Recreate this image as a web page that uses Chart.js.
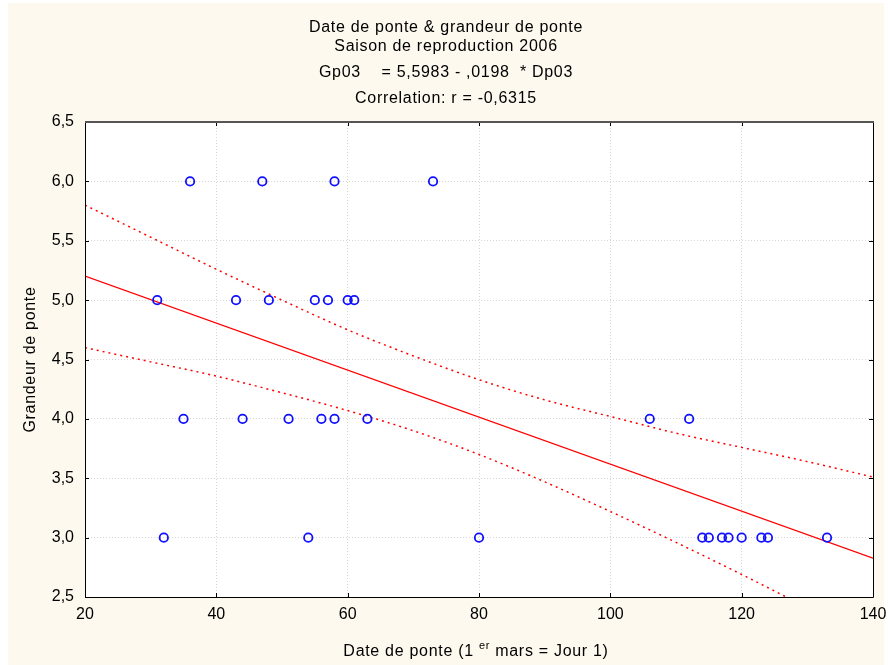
<!DOCTYPE html>
<html>
<head>
<meta charset="utf-8">
<script src="https://cdn.jsdelivr.net/npm/chart.js@4"></script>
<style>
    html, body { margin: 0; padding: 0; background: #ffffff; }
    #wrap { width: 888px; height: 665px; }
</style>
</head>
<body>
<div id="wrap"><canvas id="ponteChart" width="888" height="665"></canvas></div>
<script>
// Observations: date de ponte (jour) and grandeur de ponte
const dateDePonte = [31, 32, 35, 36, 43, 44, 47, 48, 51, 54, 55, 56, 57, 58, 58, 60, 61, 63, 73, 80,
                     106, 112, 114, 115, 117, 118, 120, 123, 124, 133];
const grandeurDePonte = [5, 3, 4, 6, 5, 4, 6, 5, 4, 3, 5, 4, 5, 6, 4, 5, 5, 4, 6, 3,
                         4, 4, 3, 3, 3, 3, 3, 3, 3, 3];

// Regression line end points
const fitX = [20, 140];
const fitY = [5.2023, 2.8263];

// Confidence band
const bandX = [20, 30, 40, 50, 60, 70, 80, 90, 100, 110, 120, 130, 140];
const bandUpper = [5.80, 5.53, 5.26, 5.00, 4.75, 4.53, 4.33, 4.16, 4.02, 3.88, 3.76, 3.64, 3.51];
const bandLower = [4.60, 4.48, 4.36, 4.22, 4.07, 3.90, 3.70, 3.47, 3.22, 2.96, 2.69, 2.41, 2.13];

const xTicks = [20, 40, 60, 80, 100, 120, 140];
const yTicks = [2.5, 3.0, 3.5, 4.0, 4.5, 5.0, 5.5, 6.0, 6.5];

const titleLines = [
    'Date de ponte & grandeur de ponte',
    'Saison de reproduction 2006',
    'Gp03    = 5,5983 - ,0198  * Dp03',
    'Correlation: r = -0,6315'
];
const titleY = [28, 47, 73, 99];
const yTitle = 'Grandeur de ponte';

const FONT = '"Liberation Sans", Arial, sans-serif';

function toPoints(xs, ys) {
    return xs.map(function (x, i) { return { x: x, y: ys[i] }; });
}

function commaFmt(v) {
    return Number(v).toFixed(1).replace('.', ',');
}

const decorPlugin = {
    id: 'decor',
    beforeDraw: function (chart) {
        const ctx = chart.ctx;
        const a = chart.chartArea;
        ctx.save();
        ctx.fillStyle = '#ffffff';
        ctx.fillRect(0, 0, chart.width, chart.height);
        ctx.fillStyle = '#fdf9ee';
        ctx.fillRect(8, 3, 876, 662);
        ctx.fillStyle = '#ffffff';
        ctx.fillRect(a.left, a.top, a.right - a.left, a.bottom - a.top);
        ctx.restore();
    },
    afterDatasetsDraw: function (chart) {
        const ctx = chart.ctx;
        const a = chart.chartArea;
        const xs = chart.scales.x;
        const ys = chart.scales.y;
        ctx.save();

        // inward tick marks
        ctx.strokeStyle = '#000000';
        ctx.lineWidth = 1;
        ctx.beginPath();
        xTicks.forEach(function (v) {
            const px = Math.round(xs.getPixelForValue(v)) + 0.5;
            ctx.moveTo(px, a.bottom);
            ctx.lineTo(px, a.bottom - 4);
            ctx.moveTo(px, a.top);
            ctx.lineTo(px, a.top + 4);
        });
        yTicks.forEach(function (v) {
            const py = Math.round(ys.getPixelForValue(v)) + 0.5;
            ctx.moveTo(a.left, py);
            ctx.lineTo(a.left + 4, py);
            ctx.moveTo(a.right, py);
            ctx.lineTo(a.right - 4, py);
        });
        ctx.stroke();

        // frame
        ctx.beginPath();
        ctx.moveTo(a.left + 0.5, a.top);
        ctx.lineTo(a.left + 0.5, a.bottom + 0.5);
        ctx.lineTo(a.right + 0.5, a.bottom + 0.5);
        ctx.lineTo(a.right + 0.5, a.top);
        ctx.stroke();
        ctx.strokeStyle = '#555555';
        ctx.lineWidth = 2;
        ctx.beginPath();
        ctx.moveTo(a.left, a.top);
        ctx.lineTo(a.right + 1, a.top);
        ctx.stroke();
        ctx.restore();
    },
    afterDraw: function (chart) {
        const ctx = chart.ctx;
        const a = chart.chartArea;
        ctx.save();
        ctx.fillStyle = '#000000';
        ctx.letterSpacing = '0.7px';
        ctx.font = '16px ' + FONT;
        ctx.textAlign = 'center';
        ctx.textBaseline = 'middle';

        titleLines.forEach(function (line, i) {
            ctx.fillText(line, 446, titleY[i]);
        });

        // y axis title
        ctx.save();
        ctx.translate(31, (a.top + a.bottom) / 2);
        ctx.rotate(-Math.PI / 2);
        ctx.fillText(yTitle, 0, 0);
        ctx.restore();

        // x axis title with superscript
        const partA = 'Date de ponte (1 ';
        const sup = 'er';
        const partB = ' mars = Jour 1)';
        ctx.textAlign = 'left';
        const wA = ctx.measureText(partA).width;
        const wB = ctx.measureText(partB).width;
        ctx.font = '11px ' + FONT;
        const wS = ctx.measureText(sup).width;
        const x0 = 476 - (wA + wS + wB) / 2;
        const yBase = 652;
        ctx.font = '16px ' + FONT;
        ctx.fillText(partA, x0, yBase);
        ctx.font = '11px ' + FONT;
        ctx.fillText(sup, x0 + wA, yBase - 6);
        ctx.font = '16px ' + FONT;
        ctx.fillText(partB, x0 + wA + wS, yBase);
        ctx.restore();
    }
};

new Chart(document.getElementById('ponteChart'), {
    type: 'scatter',
    data: {
        datasets: [
            {
                label: 'Observations',
                data: toPoints(dateDePonte, grandeurDePonte),
                pointStyle: 'circle',
                pointRadius: 4.2,
                pointHoverRadius: 4.2,
                borderColor: '#1010ff',
                backgroundColor: 'rgba(255, 255, 255, 0)',
                borderWidth: 1.8,
                order: 0
            },
            {
                type: 'line',
                label: 'Regression',
                data: toPoints(fitX, fitY),
                borderColor: '#ff0000',
                borderWidth: 1.3,
                pointRadius: 0,
                fill: false,
                order: 1
            },
            {
                type: 'line',
                label: 'Upper',
                data: toPoints(bandX, bandUpper),
                borderColor: '#ff0000',
                borderWidth: 1.5,
                borderDash: [2, 4],
                pointRadius: 0,
                fill: false,
                cubicInterpolationMode: 'monotone',
                order: 2
            },
            {
                type: 'line',
                label: 'Lower',
                data: toPoints(bandX, bandLower),
                borderColor: '#ff0000',
                borderWidth: 1.5,
                borderDash: [2, 4],
                pointRadius: 0,
                fill: false,
                cubicInterpolationMode: 'monotone',
                order: 2
            }
        ]
    },
    options: {
        responsive: false,
        animation: false,
        devicePixelRatio: 1,
        layout: {
            padding: { top: 122, right: 15, left: 0, bottom: 0 }
        },
        plugins: {
            legend: { display: false },
            tooltip: { enabled: false }
        },
        scales: {
            x: {
                type: 'linear',
                min: 20,
                max: 140,
                afterBuildTicks: function (s) {
                    s.ticks = xTicks.map(function (v) { return { value: v }; });
                },
                afterFit: function (s) {
                    s.height = 68;
                    s.paddingLeft = 0;
                    s.paddingRight = 0;
                },
                grid: {
                    color: '#d6d6d6',
                    drawTicks: false,
                    lineWidth: 1
                },
                border: { display: false, dash: [1, 2] },
                ticks: {
                    color: '#000000',
                    padding: 8,
                    maxRotation: 0,
                    font: { family: FONT, size: 16 }
                }
            },
            y: {
                type: 'linear',
                min: 2.5,
                max: 6.5,
                afterBuildTicks: function (s) {
                    s.ticks = yTicks.map(function (v) { return { value: v }; });
                },
                afterFit: function (s) {
                    s.width = 85;
                    s.paddingTop = 0;
                    s.paddingBottom = 0;
                },
                grid: {
                    color: '#d6d6d6',
                    drawTicks: false,
                    lineWidth: 1
                },
                border: { display: false, dash: [1, 2] },
                ticks: {
                    color: '#000000',
                    padding: 11,
                    font: { family: FONT, size: 16 },
                    callback: function (value) { return commaFmt(value); }
                }
            }
        }
    },
    plugins: [decorPlugin]
});
</script>
</body>
</html>
